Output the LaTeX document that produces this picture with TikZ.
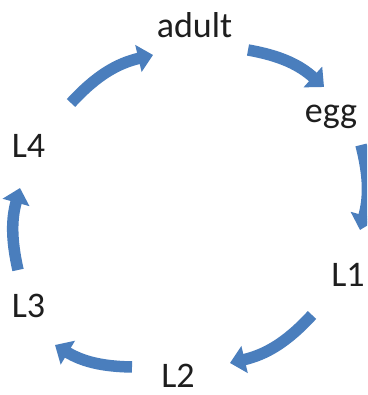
\documentclass[tikz,border=0pt]{standalone}
\usepackage{fontspec}
\setmainfont{Carlito}
\usetikzlibrary{arrows.meta}
\definecolor{cycleblue}{RGB}{74,126,189}
\definecolor{labelgray}{RGB}{30,30,30}
\tikzset{
  stage/.style={inner sep=0pt, anchor=base, font=\fontsize{36}{40}\selectfont, text=labelgray},
  cyclearrow/.style={draw=cycleblue, line width=11.5pt,
    -{Triangle[width=27pt,length=15pt,fill=cycleblue]}}
}
\begin{document}
\begin{tikzpicture}[x=1pt,y=1pt]
  \useasboundingbox (0,0) rectangle (367,395);
  \fill[white] (0,0) rectangle (367,395);
  \clip (0,0) rectangle (367,395);

  % stage labels
  \node[stage] (adult) at (194.5,357) {adult};
  \node[stage] (egg)   at (331,272)   {egg};
  \node[stage] (L1)    at (348,108)   {L1};
  \node[stage] (L2)    at (178,7)     {L2};
  \node[stage] (L3)    at (28.5,77)   {L3};
  \node[stage] (L4)    at (28.5,237)  {L4};

  % ends of the arrows between the stages
  \coordinate (a1s) at (71,292);  \coordinate (a1e) at (153,340);
  \coordinate (a2s) at (248,345); \coordinate (a2e) at (324,308);
  \coordinate (a3s) at (361,250); \coordinate (a3e) at (360,165);
  \coordinate (a4s) at (312,80);  \coordinate (a4e) at (230,32);
  \coordinate (a5s) at (132,28);  \coordinate (a5e) at (55,50);
  \coordinate (a6s) at (18,125);  \coordinate (a6e) at (20,207);

  % the life cycle, clockwise
  \draw[cyclearrow] (a1s) to[bend left=17] (a1e);
  \draw[cyclearrow] (a2s) to[bend left=16] (a2e);
  \draw[cyclearrow] (a3s) to[bend left=15] (a3e);
  \draw[cyclearrow] (a4s) to[bend left=17] (a4e);
  \draw[cyclearrow] (a5s) to[bend left=15] (a5e);
  \draw[cyclearrow] (a6s) to[bend left=14] (a6e);
\end{tikzpicture}
\end{document}
